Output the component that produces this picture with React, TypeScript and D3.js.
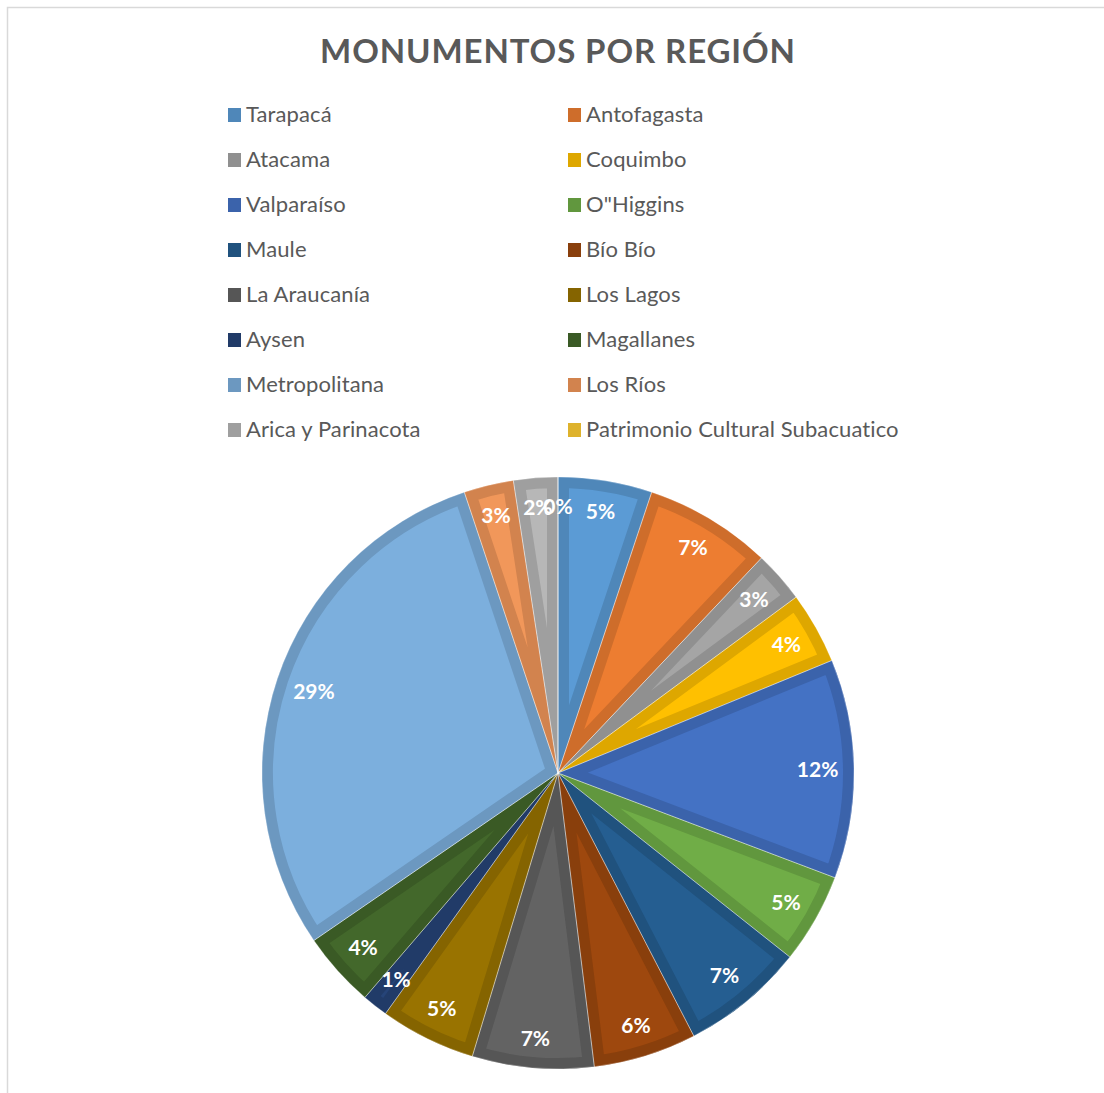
import * as d3 from "d3";
import React from "react";

const regions = [
  "Tarapacá",
  "Antofagasta",
  "Atacama",
  "Coquimbo",
  "Valparaíso",
  "O\"Higgins",
  "Maule",
  "Bío Bío",
  "La Araucanía",
  "Los Lagos",
  "Aysen",
  "Magallanes",
  "Metropolitana",
  "Los Ríos",
  "Arica y Parinacota",
  "Patrimonio Cultural Subacuatico",
];
const monuments = [51, 69, 28, 39, 119, 49, 67, 56, 66, 52, 14, 41, 293, 27, 24, 0];
const colors = [
  "#5B9BD5", "#ED7D31", "#A5A5A5", "#FFC000", "#4472C4", "#70AD47",
  "#255E91", "#9E480E", "#636363", "#997300", "#264478", "#43682B",
  "#7CAFDD", "#F1975A", "#B7B7B7", "#FFCD33",
];

const width = 1104;
const height = 1093;
const cx = 558;
const cy = 773;
const radius = 296;
const font = "Lato, 'Open Sans', sans-serif";

const shade = (c: string) => {
  const r = d3.rgb(c);
  return d3.rgb(r.r * 0.87, r.g * 0.87, r.b * 0.87).formatHex();
};

export default function App() {
  const pie = d3.pie<number>().sort(null).value((d) => d);
  const arcs = pie(monuments);
  const arc = d3.arc<d3.PieArcDatum<number>>().innerRadius(0).outerRadius(radius);
  const total = d3.sum(monuments);
  const fmt = d3.format(".0%");

  return (
    <div style={{ position: "absolute", left: 0, top: 0 }}>
      <svg width={width} height={height} style={{ display: "block", background: "#fff" }}>
        <rect x={7.5} y={7.5} width={width} height={height} fill="#fff" stroke="#d9d9d9" strokeWidth={1.5} />
        <text
          x={cx}
          y={63}
          textAnchor="middle"
          fontFamily={font}
          fontWeight="bold"
          fontSize={33}
          fill="#595959"
          letterSpacing={0.9}
        >
          MONUMENTOS POR REGIÓN
        </text>

        {/* legend, two columns */}
        {regions.map((name, i) => {
          const col = i % 2;
          const row = Math.floor(i / 2);
          const x = col === 0 ? 228 : 568;
          const y = 115 + row * 45;
          return (
            <g key={name} transform={`translate(${x},${y})`}>
              <rect x={0} y={-7} width={13} height={14} fill={shade(colors[i])} />
              <text x={18} y={0} dy="0.33em" fontFamily={font} fontSize={22} letterSpacing={0.1} fill="#595959">
                {name}
              </text>
            </g>
          );
        })}

        <g transform={`translate(${cx},${cy})`}>
          <defs>
            {arcs.map((d, i) => (
              <clipPath id={`slice-${i}`} key={i}>
                <path d={arc(d) || ""} />
              </clipPath>
            ))}
          </defs>
          {arcs.map((d, i) => (
            <path
              key={i}
              d={arc(d) || ""}
              fill={colors[i]}
              stroke={shade(colors[i])}
              strokeWidth={22}
              strokeLinejoin="miter"
              clipPath={`url(#slice-${i})`}
            />
          ))}
          {arcs.map((d, i) => (
            <path key={"o" + i} d={arc(d) || ""} fill="none" stroke="#ffffff" strokeOpacity={0.4} strokeWidth={0.8} />
          ))}
          {arcs.map((d, i) => {
            const label = fmt(d.data / total);
            const a = (d.startAngle + d.endAngle) / 2;
            const w = label.length * 11.5;
            const h = 20;
            const r = 277 - (Math.abs(Math.sin(a)) * w) / 2 - (Math.abs(Math.cos(a)) * h) / 2;
            const x = Math.sin(a) * r;
            const y = -Math.cos(a) * r;
            return (
              <text
                key={"l" + i}
                x={x}
                y={y}
                dy="0.36em"
                textAnchor="middle"
                fontFamily={font}
                fontWeight="bold"
                fontSize={21}
                fill="#ffffff"
              >
                {label}
              </text>
            );
          })}
        </g>
      </svg>
    </div>
  );
}
